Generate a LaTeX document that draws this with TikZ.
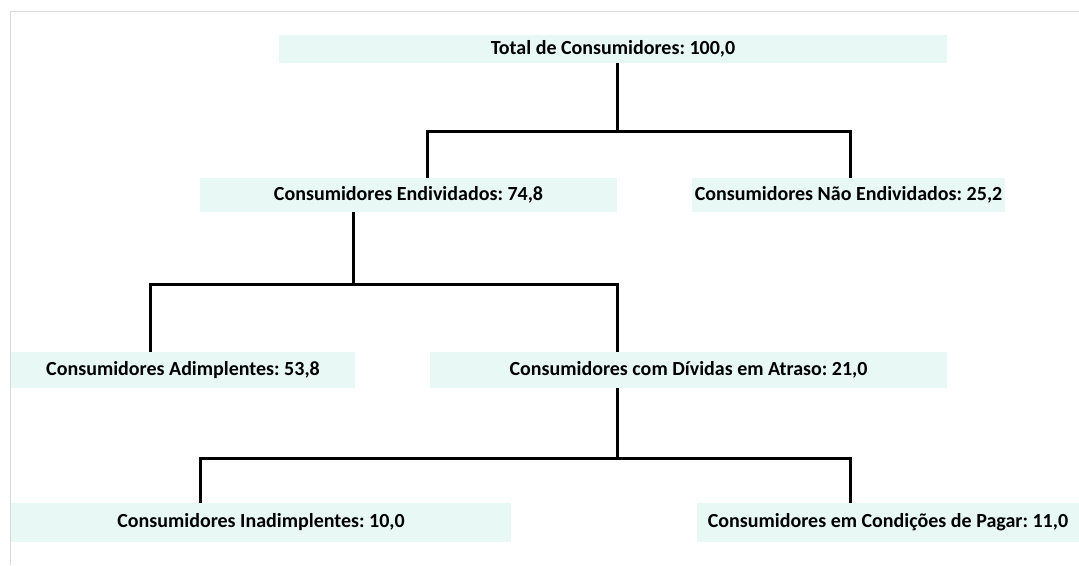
\documentclass[tikz,border=0pt]{standalone}
\usepackage{fontspec}
\setmainfont{Carlito}
\usepackage{xcolor}
\usepackage{tikz}
\usetikzlibrary{positioning,calc}
\definecolor{CaixaVerde}{RGB}{232,248,244}
\definecolor{BordaCinza}{RGB}{217,217,217}
\frenchspacing

\begin{document}
\begin{tikzpicture}[
        x=1pt, y=-1pt,
        % --- STYLE CHUNG ---
        caixa/.style={
            rectangle,
            fill=CaixaVerde,
            inner sep=0pt,
            font=\fontsize{20}{23}\selectfont\bfseries
        },
        % Style đường nối
        elo/.style={
            draw=black,
            line width=3pt
        }
    ]
        \useasboundingbox (0,0) rectangle (1079,565);

        % --- MOLDURA ---
        \draw[BordaCinza, line width=1pt] (1079,11) -- (10,11) -- (10,565);

        % --- CAIXAS ---
        \node[caixa, minimum width=668pt, minimum height=28pt] (total) at (613,49) {Total de Consumidores: 100,0};
        \node[caixa, minimum width=417pt, minimum height=34pt] (endiv) at (408.5,195) {Consumidores Endividados: 74,8};
        \node[caixa, minimum width=313pt, minimum height=34pt] (naoend) at (848.5,195) {Consumidores Não Endividados: 25,2};
        \node[caixa, minimum width=344pt, minimum height=36pt] (adimp) at (183,370) {Consumidores Adimplentes: 53,8};
        \node[caixa, minimum width=517pt, minimum height=36pt] (atraso) at (688.5,370) {Consumidores com Dívidas em Atraso: 21,0};
        \node[caixa, minimum width=500pt, minimum height=39pt] (inadimp) at (261,522.5) {Consumidores Inadimplentes: 10,0};
        \node[caixa, minimum width=382pt, minimum height=39pt] (pagar) at (888,522.5) {Consumidores em Condições de Pagar: 11,0};

        % --- PONTOS DE RAMIFICAÇÃO ---
        \coordinate (r1) at (617,131);
        \coordinate (r2) at (353,284);
        \coordinate (r3) at (617,458);

        % --- LIGAÇÕES ---
        \draw[elo] (r1 |- total.south) -- (r1);
        \draw[elo] (endiv.north -| 427,0) |- (r1) -| (naoend.north -| 850,0);

        \draw[elo] (r2 |- endiv.south) -- (r2);
        \draw[elo] (adimp.north -| 150,0) |- (r2) -| (atraso.north -| 617,0);

        \draw[elo] (r3 |- atraso.south) -- (r3);
        \draw[elo] (inadimp.north -| 200,0) |- (r3) -| (pagar.north -| 850,0);

    \end{tikzpicture}
\end{document}
